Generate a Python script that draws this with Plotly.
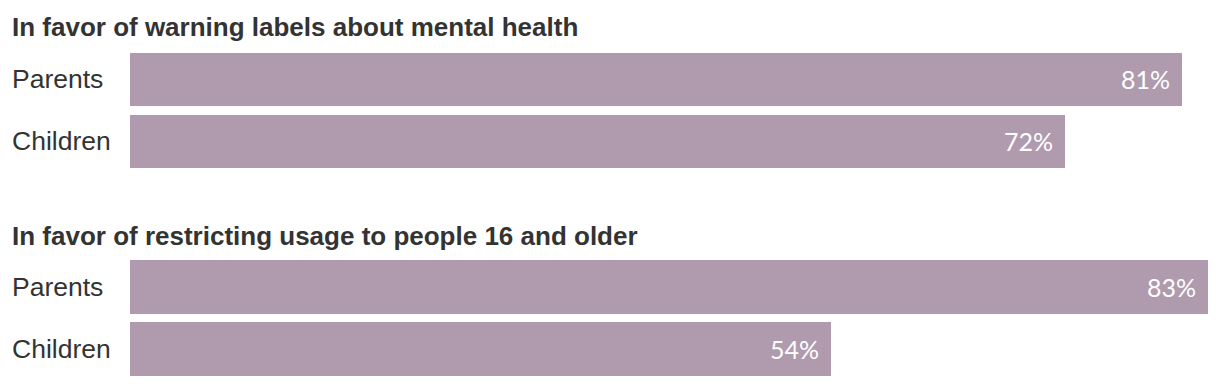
import plotly.graph_objects as go

groups = ["In favor of warning labels about mental health",
          "In favor of restricting usage to people 16 and older"]
categories = ["Parents", "Children"]
warning_values = [81, 72]
restrict_values = [83, 54]
series = [warning_values, restrict_values]

BAR = "#b09aae"
DARK = "#333333"
W, H = 1220, 386
L, R = 130, 12
plot_w = W - L - R

fig = go.Figure()
ypos = [1, 0]  # Parents on top
axes = [("x", "y"), ("x2", "y2")]
for (xa, ya), vals in zip(axes, series):
    fig.add_trace(go.Bar(
        x=vals, y=ypos, orientation="h", width=0.855,
        marker=dict(color=BAR, line=dict(width=0)),
        xaxis=xa, yaxis=ya, hoverinfo="skip", showlegend=False,
    ))

def py(p):
    return (H - p) / H

layout = dict(
    width=W, height=H,
    margin=dict(l=L, r=R, t=0, b=0),
    paper_bgcolor="white", plot_bgcolor="white",
    bargap=0,
    showlegend=False,
)
xmax = max(max(v) for v in series)
for i, (top, bot) in enumerate([(47.5, 171.5), (256, 380)]):
    sx = "" if i == 0 else "2"
    layout["xaxis" + sx] = dict(range=[0, xmax], visible=False, fixedrange=True,
                                domain=[0, 1], anchor="y" + sx)
    layout["yaxis" + sx] = dict(range=[-0.5, 1.5], visible=False, fixedrange=True,
                                domain=[py(bot), py(top)], anchor="x" + sx)
fig.update_layout(**layout)

label_font = dict(family="Liberation Sans, Arial, sans-serif", size=26.5, color=DARK)
title_font = dict(family="Liberation Sans, Arial, sans-serif", size=26, color=DARK)
value_font = dict(family="Lato, sans-serif", size=25, color="white")

annotations = []
label_x = (10 - L) / plot_w
for i, (title, vals) in enumerate(zip(groups, series)):
    sx = "" if i == 0 else "2"
    title_y = py(27) if i == 0 else py(236)
    annotations.append(dict(text="<b>" + title + "</b>", xref="paper", yref="paper",
                            x=label_x, y=title_y, xanchor="left", yanchor="middle",
                            showarrow=False, font=title_font))
    for cat, yv, v in zip(categories, ypos, vals):
        annotations.append(dict(text=cat, xref="paper", yref="y" + sx,
                                x=label_x, y=yv, xanchor="left", yanchor="middle",
                                showarrow=False, font=label_font))
        annotations.append(dict(text=f"{v}%", xref="x" + sx, yref="y" + sx,
                                x=v, y=yv, xanchor="right", yanchor="middle",
                                xshift=-10, showarrow=False, font=value_font))
fig.update_layout(annotations=annotations)

fig.write_html("out.html", config={"displayModeBar": False},
               post_script="document.body.style.margin='0';document.body.style.overflow='hidden';")
